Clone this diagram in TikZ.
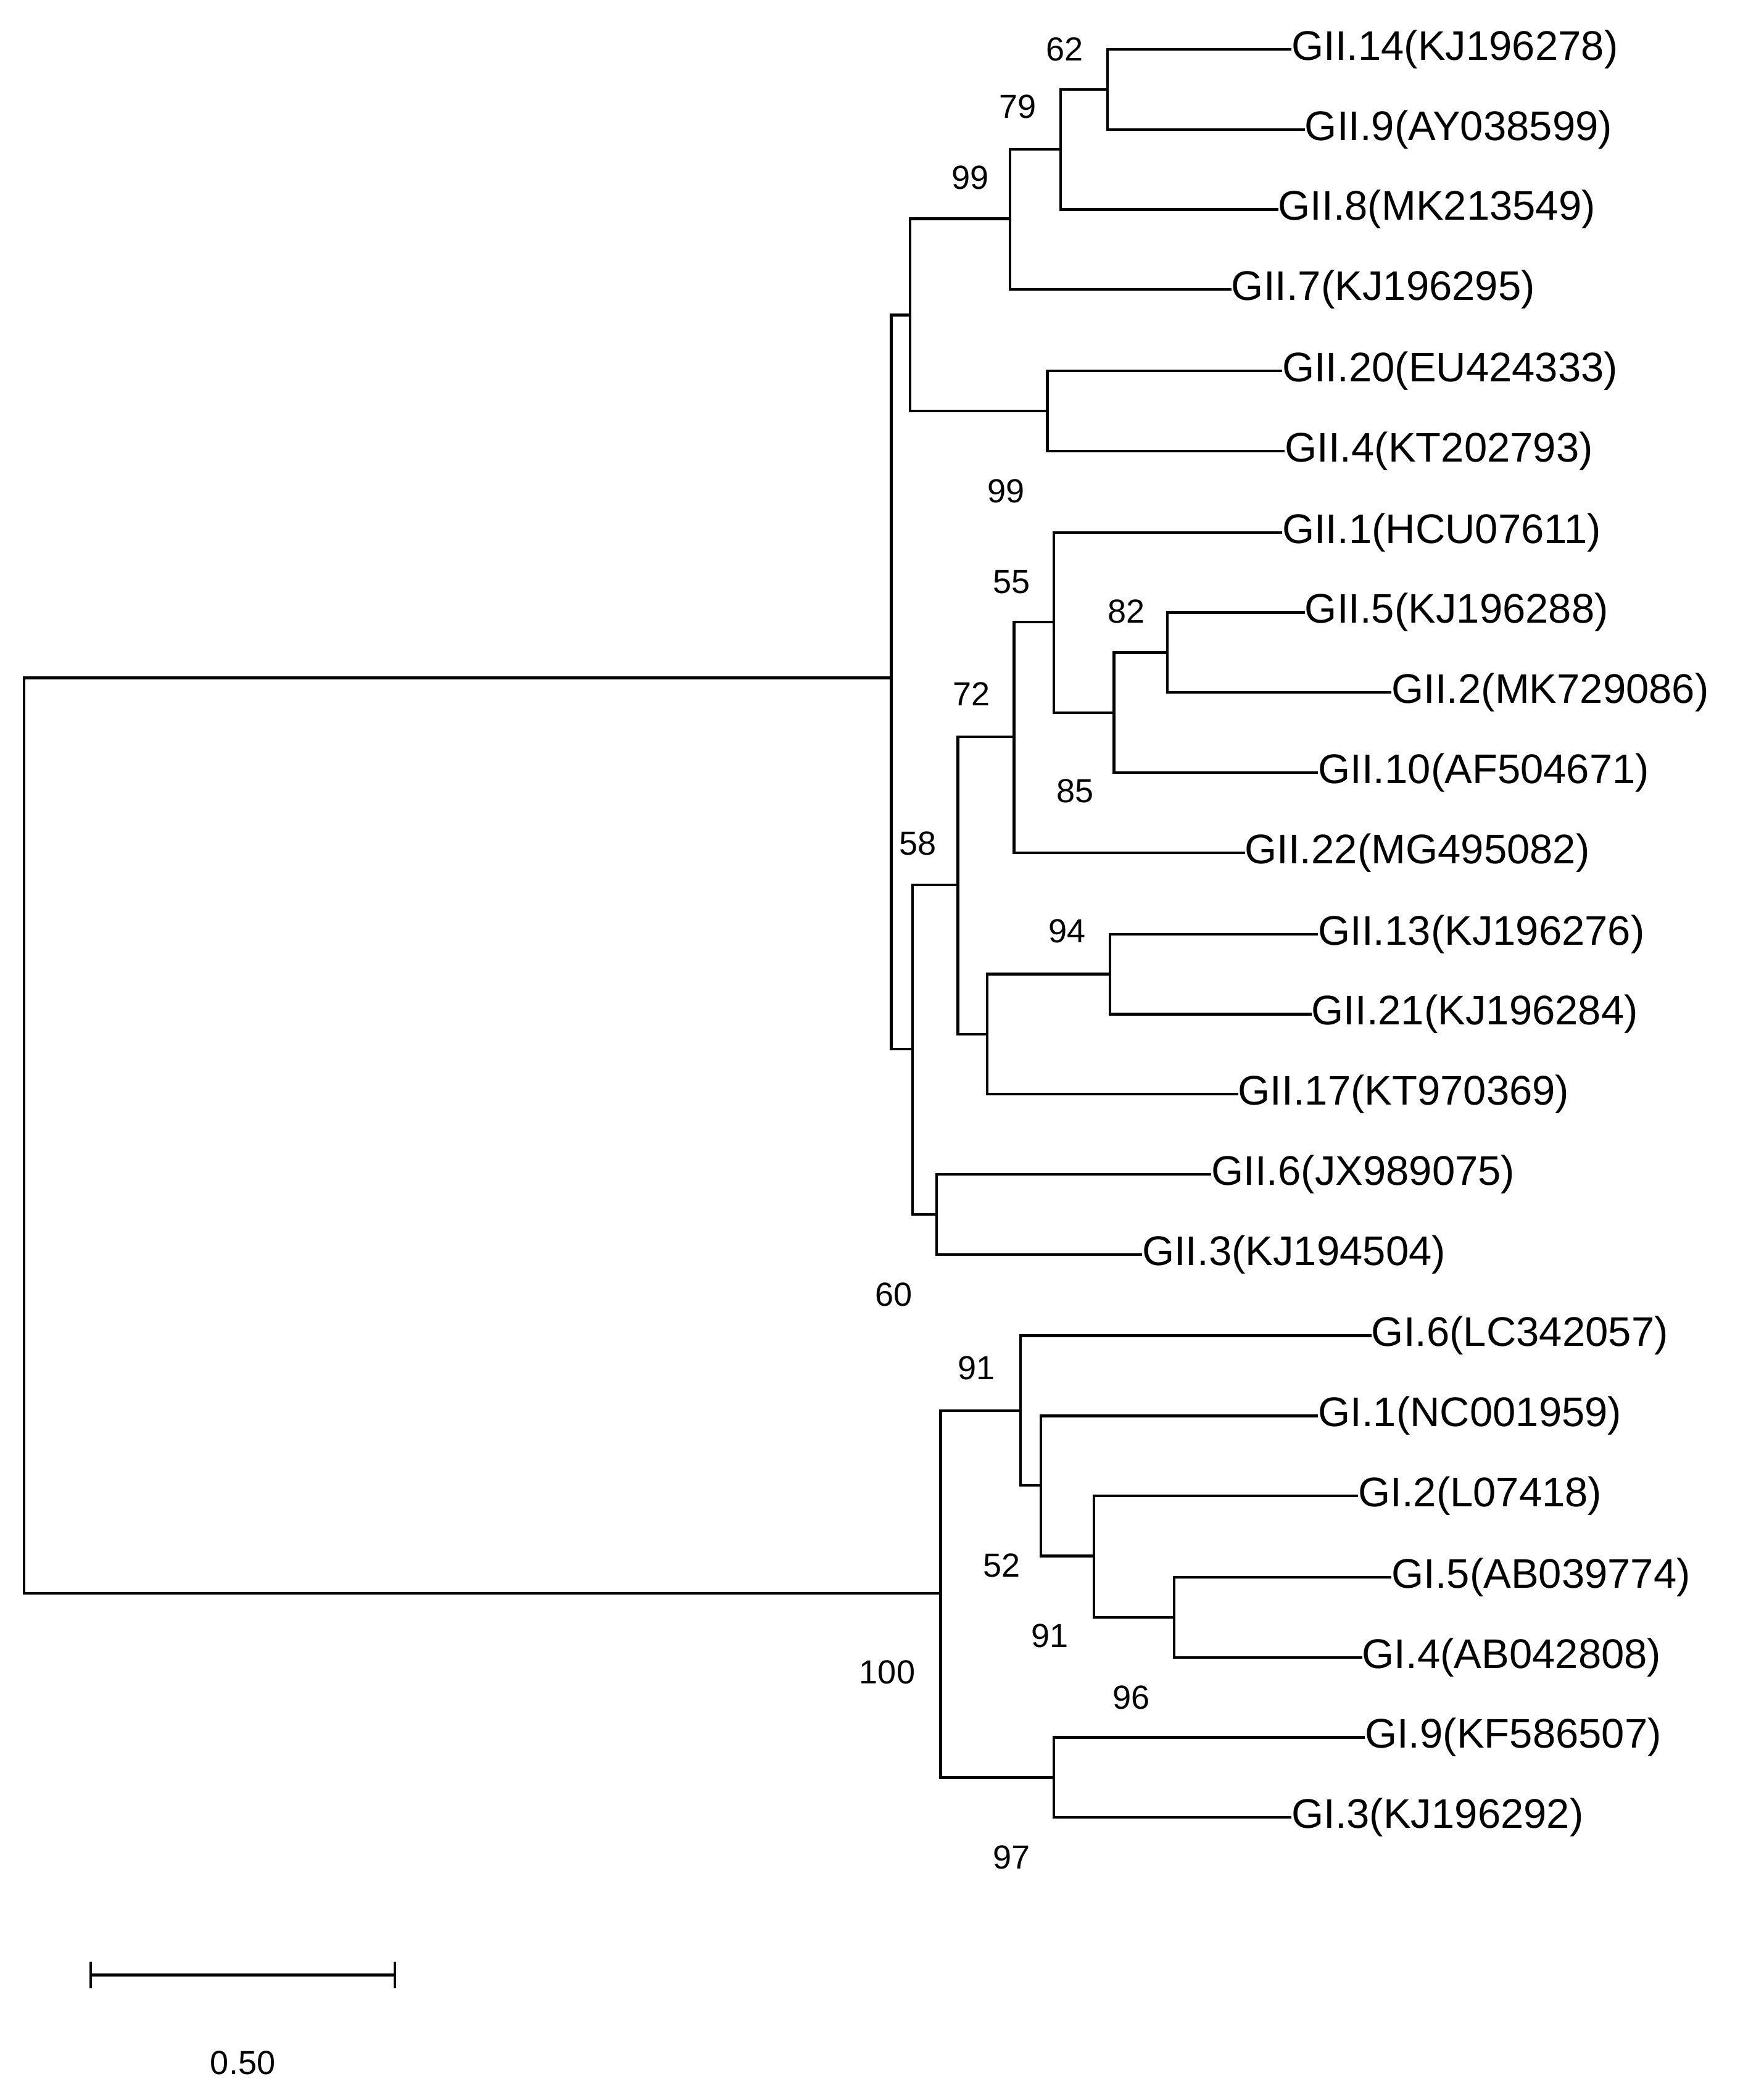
\documentclass[tikz,border=0pt]{standalone}
\usepackage{fontspec}
\setmainfont{Liberation Sans}
\begin{document}
\begin{tikzpicture}[x=1pt,y=-1pt,line width=2pt,
  leaf/.style={anchor=west,inner sep=0pt,font=\fontsize{31}{33}\selectfont},
  boot/.style={inner sep=0pt,font=\fontsize{25}{27}\selectfont},
  br/.style={draw,line cap=rect}]
\useasboundingbox[fill=white] (0,0) rectangle (1322,1564);
% internal nodes
\foreach \n/\x/\y in {a62/830/67,a79/795/112,a99/757/164,a204/785/308,aA/682/236,
  a82/875/489,a85/835/534,a55/790/466,a72/760/552,a94/832/730,a17/740/775,a58/718/663,
  a63/702/910,a60/684/786,gii/668/508,
  b54/880/1212,b91/820/1166,b52/780/1113,b91a/765/1057,b93/790/1332,b100/705/1194,root/18/851}
  \coordinate (\n) at (\x,\y);
% leaves: name / parent / end x / y / label x / text
\foreach \n/\p/\e/\y/\t in {
 l1/a62/955/37/GII.14(KJ196278), l2/a62/965/97/GII.9(AY038599),
 l3/a79/945/157/GII.8(MK213549), l4/a99/910/217/GII.7(KJ196295),
 l5/a204/948/278/GII.20(EU424333), l6/a204/950/338/GII.4(KT202793),
 l7/a55/948/399/GII.1(HCU07611), l8/a82/965/459/GII.5(KJ196288),
 l9/a82/1030/519/GII.2(MK729086), l10/a85/975/579/GII.10(AF504671),
 l11/a72/920/639/GII.22(MG495082), l12/a94/975/700/GII.13(KJ196276),
 l13/a94/970/760/GII.21(KJ196284), l14/a17/915/820/GII.17(KT970369),
 l15/a63/895/880/GII.6(JX989075), l16/a63/843/940/GII.3(KJ194504),
 m1/b91a/1015/1001/GI.6(LC342057), m2/b52/975/1061/GI.1(NC001959),
 m3/b91/1005/1121/GI.2(L07418), m4/b54/1030/1182/GI.5(AB039774),
 m5/b54/1008/1242/GI.4(AB042808), m6/b93/1010/1302/GI.9(KF586507),
 m7/b93/955/1362/GI.3(KJ196292)} {
  \node[leaf] (\n) at (\e+12,\y) {\t};
  \draw[br] (\p) |- (\n.west) ++(-12,0);
}
\foreach \c/\p in {a62/a79,a79/a99,a99/aA,a204/aA,aA/gii,a82/a85,a85/a55,a55/a72,a72/a58,
  a94/a17,a17/a58,a58/a60,a63/a60,a60/gii,b54/b91,b91/b52,b52/b91a,b91a/b100,b93/b100,
  gii/root,b100/root}
  \draw[br] (\p) |- (\c);
% bootstrap values
\foreach \x/\y/\t in {798/37/62,763/80/79,727/133/99,754/368/99,758/436/55,844/458/82,
  728/520/72,806/593/85,688/632/58,800/698/94,670/970/60,732/1025/91,751/1173/52,
  787/1226/91,848/1272/96,665/1253/100,758/1392/97}
  \node[boot] at (\x,\y) {\t};
% scale bar
\coordinate (s1) at (68,1480); \coordinate (s2) at (296,1480);
\draw (s1) -- (s2);
\draw (s1) ++(0,-10) -- ++(0,20);
\draw (s2) ++(0,-10) -- ++(0,20);
\node[boot] (sl) at (182,1546) {0.50};
\end{tikzpicture}
\end{document}
